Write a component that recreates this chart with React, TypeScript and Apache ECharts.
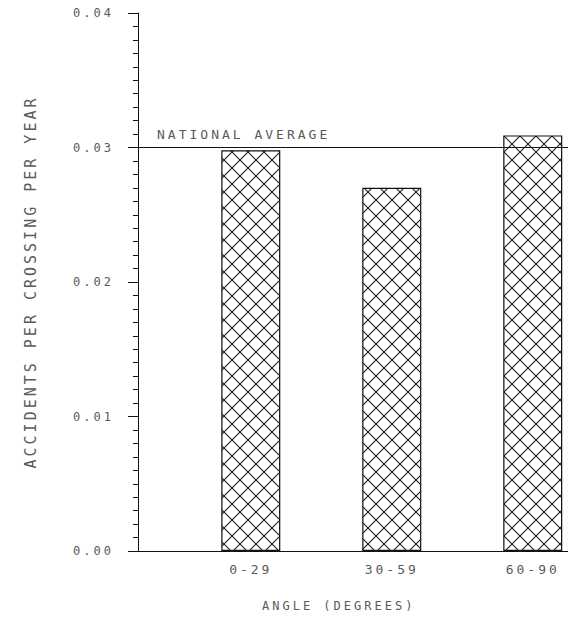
import React, { useEffect, useRef } from 'react';
import * as echarts from 'echarts';

const categories = ['0-29', '30-59', '60-90'];
const categoryPositions = [1, 2, 3];
const accidentRates = [0.0298, 0.027, 0.0309];
const nationalAverage = 0.0303;
const nationalAverageLabel = 'NATIONAL AVERAGE';
const yAxisTitle = 'ACCIDENTS PER CROSSING PER YEAR';
const xAxisTitle = 'ANGLE (DEGREES)';

const hatchSvg =
  "<svg xmlns='http://www.w3.org/2000/svg' width='16' height='16'><path d='M-1 -1L17 17M17 -1L-1 17' stroke='#1a1a1a' stroke-width='1.1' fill='none'/></svg>";
const hatchUrl = 'data:image/svg+xml;charset=utf-8,' + encodeURIComponent(hatchSvg);

export default function App() {
  const ref = useRef<HTMLDivElement>(null);
  useEffect(() => {
    const chart = echarts.init(ref.current!, null, { renderer: 'svg' });
    const font = 'DejaVu Sans Mono';
    const textColor = '#5a5a5a';
    const lineColor = '#111';
    chart.setOption({
      animation: false,
      grid: { left: 138, right: 0, top: 13, bottom: 70, containLabel: false },
      xAxis: {
        type: 'value',
        min: 0.2,
        max: 3.25,
        axisLine: { show: true, onZero: true, lineStyle: { color: lineColor, width: 1 } },
        axisTick: { show: false },
        splitLine: { show: false },
        axisLabel: {
          customValues: categoryPositions,
          formatter: (v: number) => {
            const i = categoryPositions.indexOf(v);
            return i >= 0 ? categories[i] : '';
          },
          color: textColor,
          fontFamily: font,
          fontSize: 13,
          margin: 12,
        },
      },
      yAxis: {
        type: 'value',
        min: 0,
        max: 0.04,
        interval: 0.01,
        name: yAxisTitle,
        nameLocation: 'middle',
        nameGap: 100,
        nameTextStyle: { color: textColor, fontFamily: font, fontSize: 15 },
        axisLine: { show: true, lineStyle: { color: lineColor, width: 1 } },
        axisTick: { show: true, length: 10, lineStyle: { color: lineColor } },
        minorTick: { show: true, splitNumber: 10, length: 5, lineStyle: { color: lineColor } },
        splitLine: { show: false },
        axisLabel: {
          formatter: (v: number) => v.toFixed(2),
          color: textColor,
          fontFamily: font,
          fontSize: 12,
          margin: 24,
        },
      },
      series: [
        {
          type: 'bar',
          data: categoryPositions.map((x, i) => [x, accidentRates[i]]),
          barWidth: 59,
          itemStyle: {
            color: {
              type: 'pattern',
              image: hatchUrl,
              imageWidth: 16,
              imageHeight: 16,
              repeat: 'repeat',
            },
            borderColor: lineColor,
            borderWidth: 1.2,
          },
          markLine: {
            silent: true,
            symbol: ['none', 'none'],
            lineStyle: { color: lineColor, type: 'solid', width: 1 },
            label: {
              show: true,
              position: 'insideStartTop',
              formatter: nationalAverageLabel,
              color: textColor,
              fontFamily: font,
              fontSize: 13,
              distance: [19, 7],
            },
            data: [{ yAxis: nationalAverage }],
          },
        },
      ],
      graphic: [
        {
          type: 'text',
          left: 262,
          top: 600,
          style: {
            text: xAxisTitle,
            fill: textColor,
            font: '12px "DejaVu Sans Mono"',
          },
        },
      ],
    });
    return () => chart.dispose();
  }, []);
  return (
    <div
      ref={ref}
      style={{ position: 'absolute', left: 0, top: 0, width: 568, height: 621, letterSpacing: '3px' }}
    />
  );
}
